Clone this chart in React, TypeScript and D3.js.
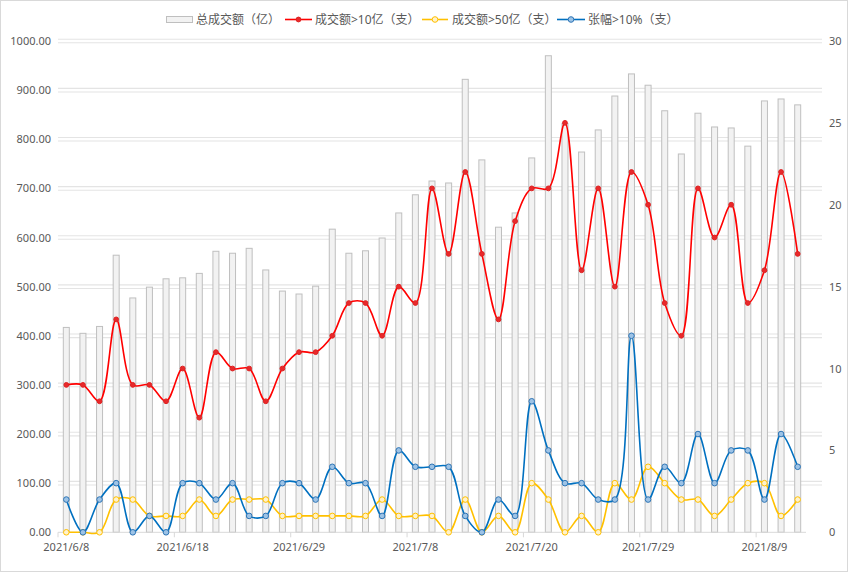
import React from "react";
import * as d3 from "d3";

const dates = [
  "2021/6/8","2021/6/9","2021/6/10","2021/6/11","2021/6/15","2021/6/16","2021/6/17","2021/6/18",
  "2021/6/21","2021/6/22","2021/6/23","2021/6/24","2021/6/25","2021/6/28","2021/6/29","2021/6/30",
  "2021/7/1","2021/7/2","2021/7/5","2021/7/6","2021/7/7","2021/7/8","2021/7/12","2021/7/13",
  "2021/7/14","2021/7/15","2021/7/16","2021/7/19","2021/7/20","2021/7/21","2021/7/22","2021/7/23",
  "2021/7/26","2021/7/27","2021/7/28","2021/7/29","2021/7/30","2021/8/2","2021/8/3","2021/8/4",
  "2021/8/5","2021/8/6","2021/8/9","2021/8/10","2021/8/11",
];

const totalTurnover = [
  417, 405, 419, 564, 477, 499, 516, 518, 527, 572, 568, 578, 534, 491, 485, 501,
  617, 568, 573, 599, 650, 687, 715, 711, 922, 758, 621, 650, 762, 970, 832, 774,
  819, 888, 933, 910, 858, 770, 853, 825, 823, 786, 878, 882, 870,
];

const over10 = [
  9, 9, 8, 13, 9, 9, 8, 10, 7, 11, 10, 10, 8, 10, 11, 11, 12, 14, 14, 12, 15, 14,
  21, 17, 22, 17, 13, 19, 21, 21, 25, 16, 21, 15, 22, 20, 14, 12, 21, 18, 20, 14, 16, 22, 17,
];

const over50 = [
  0, 0, 0, 2, 2, 1, 1, 1, 2, 1, 2, 2, 2, 1, 1, 1, 1, 1, 1, 2, 1, 1, 1, 0, 2, 0, 1, 0,
  3, 2, 0, 1, 0, 3, 2, 4, 3, 2, 2, 1, 2, 3, 3, 1, 2,
];

const riseOver10 = [
  2, 0, 2, 3, 0, 1, 0, 3, 3, 2, 3, 1, 1, 3, 3, 2, 4, 3, 3, 1, 5, 4, 4, 4, 1, 0, 2, 1,
  8, 5, 3, 3, 2, 2, 12, 2, 4, 3, 6, 3, 5, 5, 2, 6, 4,
];

const leftTicks = [0, 100, 200, 300, 400, 500, 600, 700, 800, 900, 1000];
const rightTicks = [0, 5, 10, 15, 20, 25, 30];
const xLabelEvery = 7;

const legendLabels = ["总成交额（亿）", "成交额>10亿（支）", "成交额>50亿（支）", "张幅>10%（支）"];

const W = 848;
const H = 572;
const plotL = 58;
const plotR = 806;
const gridR = 822;
const yBottom = 532.3;
const yTop = 41;
const FONT = "'Noto Sans', 'Noto Sans CJK SC', sans-serif";
const TXT = "#595959";

const RED = "#ff0000";
const YEL = "#ffc000";
const BLU = "#0070c0";

export default function App() {
  const x = d3.scaleBand<string>().domain(dates).range([plotL, plotR]).paddingInner(0).paddingOuter(0);
  const cx = (i: number) => (x(dates[i]) as number) + x.bandwidth() / 2;
  const yL = d3.scaleLinear().domain([0, 1000]).range([yBottom, yTop]);
  const yR = d3.scaleLinear().domain([0, 30]).range([yBottom, yTop]);
  const barW = 6;

  const lineGen = (vals: number[]) =>
    d3
      .line<number>()
      .x((_, i) => cx(i))
      .y((d) => yR(d))
      .curve(d3.curveCatmullRom.alpha(0.5))(vals) as string;

  const series = [
    { vals: over10, color: RED, markerFill: "#e8292b", markerStroke: "#d22", r: 2.4 },
    { vals: over50, color: YEL, markerFill: "#fff2cc", markerStroke: YEL, r: 2.8 },
    { vals: riseOver10, color: BLU, markerFill: "#9dc3e6", markerStroke: "#2e75b6", r: 2.8 },
  ];

  const tickIdx = dates.map((_, i) => i).filter((i) => i % xLabelEvery === 0);

  return (
    <svg
      width={W}
      height={H}
      style={{ position: "absolute", left: 0, top: 0, background: "#fff" }}
      fontFamily={FONT}
    >
      <rect x={0.5} y={0.5} width={W - 1} height={H - 1} fill="#fff" stroke="#d9d9d9" />

      {/* gridlines (double) */}
      {leftTicks.map((t) => {
        const y = yL(t);
        if (t === 0) return null;
        return (
          <g key={"g" + t}>
            <line x1={plotL} x2={gridR} y1={y - 1.8} y2={y - 1.8} stroke="#e4e4e4" strokeWidth={1.1} />
            <line x1={plotL} x2={gridR} y1={y + 1.8} y2={y + 1.8} stroke="#e4e4e4" strokeWidth={1.1} />
          </g>
        );
      })}

      {/* bars */}
      {totalTurnover.map((v, i) => (
        <rect
          key={"b" + i}
          x={cx(i) - barW / 2}
          y={yL(v)}
          width={barW}
          height={yL(0) - yL(v)}
          fill="#f2f2f2"
          stroke="#bfbfbf"
          strokeWidth={1}
        />
      ))}

      {/* x axis */}
      <line x1={plotL} x2={plotR} y1={yBottom} y2={yBottom} stroke="#d9d9d9" strokeWidth={1} />
      {tickIdx.map((i) => {
        const xx = x(dates[i]) as number;
        return <line key={"t" + i} x1={xx} x2={xx} y1={yBottom} y2={yBottom + 5} stroke="#d9d9d9" />;
      })}
      {tickIdx.map((i) => (
        <text key={"xl" + i} x={cx(i)} y={550.5} fontSize={11} fill={TXT} textAnchor="middle">
          {dates[i]}
        </text>
      ))}

      {/* left axis labels */}
      {leftTicks.map((t) => (
        <text key={"yl" + t} x={51} y={yL(t) + 4} fontSize={11} fill={TXT} textAnchor="end">
          {t.toFixed(2)}
        </text>
      ))}
      {/* right axis labels */}
      {rightTicks.map((t) => (
        <text key={"yr" + t} x={829} y={yR(t) + 4} fontSize={11} fill={TXT} textAnchor="start">
          {t}
        </text>
      ))}

      {/* lines */}
      {series.map((s, si) => (
        <g key={"s" + si}>
          <path d={lineGen(s.vals)} fill="none" stroke={s.color} strokeWidth={1.6} />
          {s.vals.map((v, i) => (
            <circle
              key={i}
              cx={cx(i)}
              cy={yR(v)}
              r={s.r}
              fill={s.markerFill}
              stroke={s.markerStroke}
              strokeWidth={1}
            />
          ))}
        </g>
      ))}

      {/* legend */}
      <g fontSize={12} fill={TXT}>
        <rect x={166.5} y={16.5} width={26} height={6} fill="#f2f2f2" stroke="#bfbfbf" />
        <text x={196} y={24}>{legendLabels[0]}</text>

        <line x1={285} x2={312} y1={19.5} y2={19.5} stroke={RED} strokeWidth={1.6} />
        <circle cx={298.5} cy={19.5} r={2.4} fill="#e8292b" stroke="#d22" />
        <text x={315} y={24}>{legendLabels[1]}</text>

        <line x1={422} x2={448} y1={19.5} y2={19.5} stroke={YEL} strokeWidth={1.6} />
        <circle cx={435} cy={19.5} r={2.8} fill="#fff2cc" stroke={YEL} />
        <text x={452} y={24}>{legendLabels[2]}</text>

        <line x1={557} x2={585} y1={19.5} y2={19.5} stroke={BLU} strokeWidth={1.6} />
        <circle cx={571} cy={19.5} r={2.8} fill="#9dc3e6" stroke="#2e75b6" />
        <text x={588} y={24}>{legendLabels[3]}</text>
      </g>
    </svg>
  );
}
